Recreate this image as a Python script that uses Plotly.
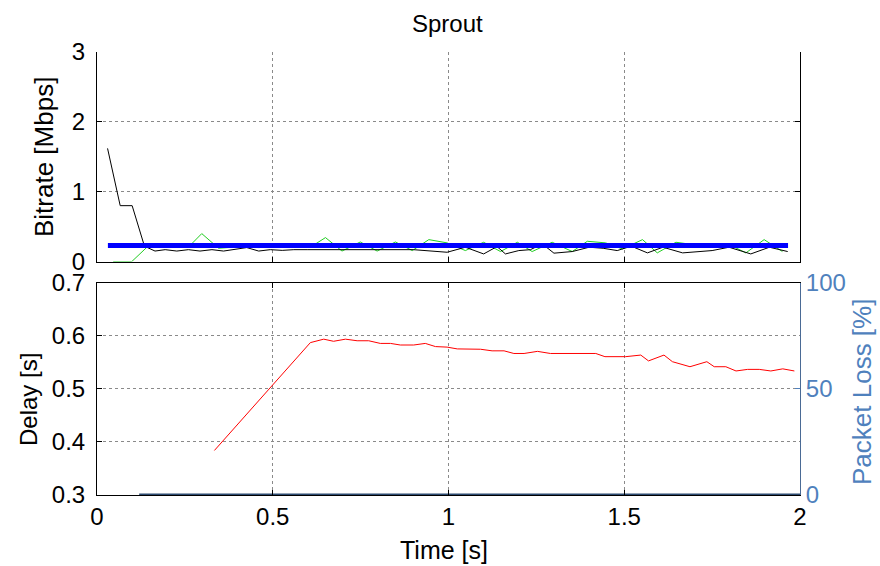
import plotly.graph_objects as go

# Bitrate traces (time in s, bitrate in Mbps)
sent_t = [0.030, 0.066, 0.100, 0.135, 0.165, 0.194, 0.227, 0.260, 0.293, 0.327,
          0.360, 0.393, 0.426, 0.460, 0.493, 0.527, 0.560, 0.600, 0.700, 0.800,
          0.900, 0.996, 1.048, 1.100, 1.138, 1.162, 1.200, 1.233, 1.267, 1.300,
          1.352, 1.400, 1.440, 1.480, 1.520, 1.566, 1.610, 1.666, 1.710, 1.750,
          1.798, 1.860, 1.913, 1.965]
sent_rate = [1.62, 0.80, 0.80, 0.22, 0.15, 0.17, 0.15, 0.17, 0.15, 0.17,
             0.15, 0.17, 0.20, 0.15, 0.17, 0.16, 0.17, 0.17, 0.17, 0.17,
             0.17, 0.133, 0.205, 0.109, 0.214, 0.109, 0.157, 0.17, 0.252, 0.12,
             0.143, 0.205, 0.19, 0.157, 0.22, 0.124, 0.205, 0.124, 0.143, 0.157,
             0.205, 0.109, 0.205, 0.143]

recv_t = [0.046, 0.099, 0.141, 0.270, 0.298, 0.346, 0.400, 0.460, 0.520, 0.590,
          0.621, 0.650, 0.697, 0.749, 0.797, 0.849, 0.897, 0.944, 0.996, 1.048,
          1.100, 1.148, 1.196, 1.238, 1.295, 1.352, 1.395, 1.447, 1.495, 1.552,
          1.594, 1.647, 1.700, 1.750, 1.800, 1.846, 1.898, 1.950]
recv_rate = [0.0, 0.0, 0.20, 0.257, 0.40, 0.19, 0.21, 0.20, 0.21, 0.22,
             0.25, 0.343, 0.15, 0.28, 0.15, 0.28, 0.157, 0.314, 0.267, 0.157,
             0.276, 0.143, 0.276, 0.143, 0.276, 0.143, 0.29, 0.267, 0.18, 0.314,
             0.124, 0.276, 0.24, 0.23, 0.24, 0.124, 0.314, 0.143]

capacity_t = [0.031, 1.966]
capacity_rate = [0.23, 0.23]

# Delay trace (time in s, delay in s)
delay_t = [0.334, 0.607, 0.645, 0.673, 0.707, 0.740, 0.773, 0.806, 0.835, 0.863,
           0.901, 0.934, 0.963, 0.996, 1.025, 1.091, 1.124, 1.158, 1.186, 1.215,
           1.253, 1.290, 1.419, 1.445, 1.504, 1.547, 1.569, 1.613, 1.637, 1.687,
           1.735, 1.756, 1.789, 1.818, 1.851, 1.884, 1.917, 1.951, 1.984]
delay_s = [0.384, 0.5875, 0.594, 0.590, 0.594, 0.591, 0.591, 0.586, 0.586, 0.583,
           0.583, 0.586, 0.580, 0.579, 0.5756, 0.575, 0.572, 0.572, 0.567, 0.567,
           0.571, 0.567, 0.567, 0.561, 0.561, 0.564, 0.553, 0.564, 0.5515, 0.542,
           0.5515, 0.542, 0.542, 0.534, 0.537, 0.537, 0.534, 0.538, 0.534]

# Packet loss (time in s, loss in %)
loss_t = [0.12, 2.0]
loss_pct = [0, 0]

x_ticks = [0, 0.5, 1, 1.5, 2]
x_labels = ["0", "0.5", "1", "1.5", "2"]
rate_ticks = [0, 1, 2, 3]
delay_ticks = [0.3, 0.4, 0.5, 0.6, 0.7]
delay_labels = ["0.3", "0.4", "0.5", "0.6", "0.7"]
loss_ticks = [0, 50, 100]

FONT = "Liberation Sans, Arial, sans-serif"
FS = 24
LOSS_BLUE = "#4F81BD"

fig = go.Figure()
fig.add_trace(go.Scatter(x=recv_t, y=recv_rate, mode="lines",
                         line=dict(color="#22CC22", width=1), xaxis="x", yaxis="y"))
fig.add_trace(go.Scatter(x=sent_t, y=sent_rate, mode="lines",
                         line=dict(color="black", width=1), xaxis="x", yaxis="y"))
fig.add_trace(go.Scatter(x=capacity_t, y=capacity_rate, mode="lines",
                         line=dict(color="#0000FF", width=5), xaxis="x", yaxis="y"))
fig.add_trace(go.Scatter(x=delay_t, y=delay_s, mode="lines",
                         line=dict(color="#FF0000", width=1), xaxis="x2", yaxis="y2"))
fig.add_trace(go.Scatter(x=loss_t, y=loss_pct, mode="lines",
                         line=dict(color="#2C4A70", width=3), xaxis="x2", yaxis="y3"))

grid = dict(showgrid=True, gridcolor="#8a8a8a", griddash="dot", gridwidth=1)
common = dict(ticks="inside", ticklen=5, tickcolor="black", showline=True,
              linecolor="black", linewidth=1, zeroline=False,
              tickfont=dict(family=FONT, size=FS, color="black"))

fig.update_layout(
    width=880, height=566,
    margin=dict(l=97, r=80, t=52, b=71),
    paper_bgcolor="white", plot_bgcolor="white",
    showlegend=False,
    font=dict(family=FONT, size=FS, color="black"),
    xaxis=dict(domain=[0, 1], anchor="y", range=[0, 2], tickvals=x_ticks,
               showticklabels=False, **grid, **common),
    yaxis=dict(domain=[0.527, 1], anchor="x", range=[0, 3], tickvals=rate_ticks,
               mirror="ticks", ticklabelstandoff=6, **grid, **common),
    xaxis2=dict(domain=[0, 1], anchor="y2", range=[0, 2], tickvals=x_ticks,
                ticktext=x_labels, mirror="ticks", **grid, **common),
    yaxis2=dict(domain=[0, 0.4786], anchor="x2", range=[0.3, 0.7],
                tickvals=delay_ticks, ticktext=delay_labels,
                ticklabelstandoff=6, **grid, **common),
    yaxis3=dict(overlaying="y2", anchor="x2", side="right", range=[0, 100],
                tickvals=loss_ticks, ticks="inside", ticklen=5,
                tickcolor=LOSS_BLUE, showline=True, linecolor="#4A6A95",
                linewidth=1, showgrid=False, zeroline=False,
                tickfont=dict(family=FONT, size=FS, color=LOSS_BLUE)),
)

def px_x(px):
    return (px - 97) / 703

def px_y(py):
    return (495 - py) / 443

labels = [
    dict(text="Sprout", x=px_x(447), y=px_y(23), size=24, angle=0, color="black"),
    dict(text="Bitrate [Mbps]", x=px_x(44), y=px_y(157), size=26, angle=-90, color="black"),
    dict(text="Delay [s]", x=px_x(28), y=px_y(400), size=24, angle=-90, color="black"),
    dict(text="Time [s]", x=px_x(444), y=px_y(550), size=25, angle=0, color="black"),
    dict(text="Packet Loss [%]", x=px_x(862), y=px_y(392), size=26, angle=-90, color=LOSS_BLUE),
]
for a in labels:
    fig.add_annotation(text=a["text"], xref="paper", yref="paper", x=a["x"], y=a["y"],
                       xanchor="center", yanchor="middle", showarrow=False,
                       textangle=a["angle"],
                       font=dict(family=FONT, size=a["size"], color=a["color"]))

fig.write_html("out.html")
